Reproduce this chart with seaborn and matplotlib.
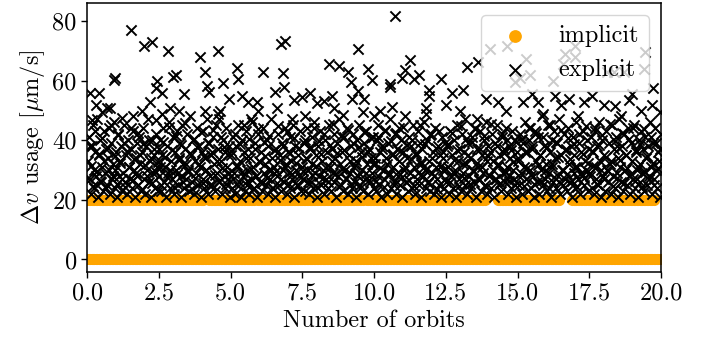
import numpy as np
import pandas as pd
import matplotlib
matplotlib.use("Agg")
import matplotlib.pyplot as plt
import seaborn as sns

# ---------------- data ----------------
# explicit Δv usage, core values sampled every 1/30 orbit, grouped in 2.5-orbit blocks
explicit_core_a = [33,41,27,22,38,45,30,24,36,28,47,21,35,40,26,
                   31,23,43,29,37,25,34,44,22,39,27,32,46,24,30,
                   36,21,42,28,33,38,23,29,45,26,35,22,40,31,27,
                   37,24,43,30,21,34,28,39,25,41,32,23,36,44,27,
                   22,38,30,47,26,33,21,40,29,35,24,42,31,23,37]
explicit_core_b = [28,40,23,35,44,26,31,21,38,29,46,24,33,27,41,
                   22,36,30,43,25,34,39,21,28,45,32,24,37,27,42,
                   30,23,48,35,26,40,22,33,29,44,25,38,31,21,36,
                   27,43,24,34,30,47,22,39,28,35,25,41,32,23,45,
                   29,37,26,50,33,22,40,28,36,24,44,31,27,38,21]
explicit_core_c = [35,24,41,29,22,38,31,45,26,33,21,40,28,36,23,
                   43,30,25,37,22,34,27,46,31,24,39,28,21,42,33,
                   26,36,23,44,29,32,25,40,22,38,30,27,47,34,24,
                   31,21,37,28,42,25,35,23,39,30,26,44,32,22,36,
                   29,41,24,33,27,45,21,38,30,25,35,28,43,23,31]
explicit_core_d = [27,39,23,34,44,30,22,37,26,41,32,24,46,29,35,
                   21,38,28,43,25,33,30,22,40,27,36,24,45,31,23,
                   37,29,42,26,34,21,39,28,47,32,25,36,23,41,30,
                   27,44,22,35,29,38,24,42,31,26,33,21,40,28,45,
                   25,36,30,23,39,27,43,32,22,37,26,34,29,41,24]
explicit_core_e = [32,23,40,28,45,25,36,21,38,30,27,43,34,22,39,
                   29,47,24,35,31,26,42,22,37,28,44,33,25,40,21,
                   36,30,48,26,34,23,41,29,38,24,45,31,22,35,27,
                   43,25,39,32,21,37,28,46,30,24,40,26,33,23,42,
                   29,36,22,44,31,27,38,25,35,21,41,30,34,24,39]
explicit_core_f = [26,38,31,22,43,28,35,24,40,30,21,45,33,27,37,
                   23,42,29,36,25,47,32,22,39,28,34,24,41,30,26,
                   44,21,37,31,27,43,23,35,29,40,25,46,33,22,38,
                   28,36,24,42,30,21,39,27,45,32,25,35,23,41,29,
                   37,26,44,31,22,38,28,34,24,43,30,27,40,21,36]
explicit_core_g = [34,25,42,29,22,39,31,46,27,36,23,40,30,44,24,
                   37,28,21,43,33,26,41,22,35,30,48,25,38,27,32,
                   23,45,29,36,21,40,31,26,43,34,24,39,28,47,22,
                   35,30,25,42,27,37,23,44,32,26,38,21,41,29,35,
                   24,46,31,27,39,22,36,28,43,25,33,30,40,23,37]
explicit_core_h = [29,41,24,36,22,44,31,27,38,25,46,33,21,40,28,
                   35,23,43,30,26,39,32,22,45,28,37,24,41,29,34,
                   21,47,31,26,38,23,42,30,35,25,44,28,22,39,33,
                   27,45,24,36,30,21,40,32,26,43,29,37,23,41,34,
                   25,38,28,46,31,22,39,27,44,30,24,36,33,21,42]

# second, sparser set of explicit samples (every 1/16 orbit)
explicit_core2_a = [27.5,38.2,31.4,24.6,43.1,29.8,35.5,26.2,40.7,33.1,23.9,37.4,30.2,45.3,28.1,34.6,25.4,41.8,32.3,27.0,
                    39.1,24.2,36.3,30.9,44.2,26.8,33.7,29.1,42.4,35.0,23.5,38.8,31.7,27.9,40.1,34.2,25.7,37.0,29.4,32.8]
explicit_core2_b = [31.2,25.1,39.6,34.4,27.7,44.6,30.0,36.9,24.4,41.3,28.6,33.5,38.3,26.1,45.8,32.1,29.3,35.8,23.7,40.5,
                    27.2,37.6,31.9,42.9,25.8,34.9,29.9,39.0,24.9,36.1,43.6,28.4,33.0,26.5,41.0,30.6,37.9,25.3,35.2,28.9]
explicit_core2_c = [36.4,27.1,42.0,31.6,24.8,38.7,29.2,45.0,33.9,26.3,40.4,30.5,23.8,37.2,28.0,43.8,32.6,25.6,39.4,34.7,
                    27.5,41.6,30.1,24.1,36.8,29.6,44.9,33.3,26.9,38.0,31.0,42.7,25.2,35.6,28.7,40.8,32.4,24.5,37.3,27.8]
explicit_core2_d = [29.7,40.0,33.6,25.9,37.7,28.3,44.0,31.3,24.3,39.8,35.3,27.4,42.2,30.8,26.0,38.5,32.9,45.5,28.8,35.9,
                    24.7,41.5,30.3,36.6,27.3,43.3,33.2,25.5,39.2,31.8,28.2,37.8,24.0,34.5,42.8,29.0,36.0,26.6,40.9,32.0]
explicit_core2_e = [34.1,26.4,41.1,30.7,37.1,24.2,43.5,32.2,28.5,39.9,35.4,25.0,42.5,29.5,36.5,27.6,44.4,31.1,38.4,26.7,
                    33.8,40.2,24.6,35.7,29.0,45.1,32.7,27.9,38.9,30.4,25.8,41.9,34.0,28.1,37.5,23.6,43.0,31.5,36.2,27.0]
explicit_core2_f = [30.3,38.6,26.0,42.3,33.4,28.9,36.7,24.8,44.7,31.9,27.3,40.6,35.1,25.4,39.3,29.8,43.9,32.5,26.8,37.0,
                    30.9,41.4,24.3,34.8,28.4,45.6,33.0,27.1,38.1,31.4,25.6,42.1,35.8,29.3,40.0,26.2,36.9,32.8,24.9,39.6]
explicit_core2_g = [33.0,27.6,40.3,24.7,36.2,30.6,44.1,28.3,38.0,25.5,42.6,31.8,35.0,26.4,41.2,29.7,37.7,24.1,45.2,32.0,
                    27.8,39.5,34.3,25.9,43.4,30.0,36.6,28.6,40.8,33.6,26.3,38.9,31.2,24.4,42.0,29.1,35.5,27.2,44.8,32.3]
explicit_core2_h = [28.0,36.3,31.5,43.2,25.3,38.3,30.1,41.7,26.9,34.4,29.6,45.4,32.9,24.5,39.7,27.4,37.4,33.3,42.5,25.7,
                    35.2,30.7,40.4,28.7,44.3,26.2,36.8,31.1,38.6,24.2,43.7,29.4,34.9,27.1,41.0,32.5,25.0,39.1,30.5,37.0]

# explicit high values (orbit, Δv)
explicit_peak_t = [1.52,1.96,2.25,2.81,0.92,0.97,0.10,0.40,2.43,2.38,2.60,3.00,3.10,0.69,0.80,0.50,1.20,0.16,2.40,2.62,2.90,3.20,1.60,1.90,0.30,2.20,
                   3.94,4.55,4.11,5.22,5.27,6.11,4.72,4.17,4.25,6.54,6.60,3.36,4.95,5.40,5.60,5.90,5.95,4.10,4.57,4.60,5.70,6.77,6.89,
                   6.83,6.85,7.76,8.52,9.22,9.45,9.63,7.20,7.50,8.00,8.25,7.13,10.20,9.43,8.43,8.76,9.10,9.20,9.78,9.94,7.60,8.90,9.60,10.00,8.60,
                   10.71,11.25,11.08,11.55,10.54,10.56,10.96,11.40,12.33,11.90,11.92,12.73,13.10,13.23,10.62,11.80,11.82,12.50,13.00,13.60,
                   13.62,14.03,14.63,15.31,15.10,15.45,14.90,16.23,16.65,16.60,16.99,17.00,18.10,18.35,18.70,19.43,19.40,19.73,
                   13.90,14.30,15.20,15.50,15.70,16.30,16.50,16.80,17.30,17.60,18.00,18.40,18.90,19.00,19.70,19.98,14.60,15.90,17.10,18.60,19.30]
explicit_peak_dv = [76.9,71.5,73.0,70.0,60.4,61.0,55.8,55.8,60.0,57.5,55.8,61.2,62.0,50.7,51.0,49.6,47.4,46.7,46.7,49.0,51.0,50.0,48.0,50.0,52.0,53.0,
                    67.9,70.0,63.1,64.4,60.7,63.1,59.2,58.1,56.2,56.2,51.0,55.5,54.0,55.0,53.0,53.0,50.0,50.0,49.0,47.0,47.0,72.4,73.4,
                    62.5,58.0,56.0,55.0,54.0,56.5,54.0,53.5,54.7,52.6,53.3,47.3,50.0,70.7,65.7,65.1,63.0,59.6,64.0,60.1,48.0,48.5,49.5,48.0,51.0,
                    81.9,66.8,63.5,61.8,59.0,58.0,61.0,60.7,60.7,56.8,55.0,56.0,57.0,64.6,51.2,51.0,49.0,52.0,50.0,47.0,
                    66.3,70.7,71.8,67.4,61.0,62.0,59.6,60.0,69.0,65.7,71.8,68.0,63.0,63.0,63.0,69.6,64.0,57.5,
                    54.0,53.0,53.0,55.5,53.0,55.0,52.0,54.0,53.0,55.0,52.0,51.5,53.5,55.5,52.0,49.5,50.0,49.0,48.0,48.0,50.0]

# implicit: constant levels (µm/s) and the orbit ranges where the 20 µm/s level is used
implicit_levels = [0.0, 20.0]
implicit_on_segments = [(0.0, 4.10), (4.22, 5.84), (5.94, 9.63), (9.72, 13.89), (14.29, 16.46), (16.86, 19.77)]
implicit_step = 0.05
n_orbits = 20.0

x_ticks = [0.0, 2.5, 5.0, 7.5, 10.0, 12.5, 15.0, 17.5, 20.0]
y_ticks = [0, 20, 40, 60, 80]

# ---------------- build tables ----------------
core = (explicit_core_a + explicit_core_b + explicit_core_c + explicit_core_d +
        explicit_core_e + explicit_core_f + explicit_core_g + explicit_core_h)
core2 = (explicit_core2_a + explicit_core2_b + explicit_core2_c + explicit_core2_d +
         explicit_core2_e + explicit_core2_f + explicit_core2_g + explicit_core2_h)
core_t = (np.arange(len(core)) + 0.5) * (n_orbits / len(core))
core2_t = (np.arange(len(core2)) + 0.3) * (n_orbits / len(core2))
explicit_df = pd.DataFrame({
    "t": np.concatenate([core_t, core2_t, explicit_peak_t]),
    "dv": np.concatenate([core, core2, explicit_peak_dv]).astype(float),
})

t_grid = np.arange(0.0, n_orbits + 1e-9, implicit_step)
imp_t, imp_v = [], []
imp_t.extend(t_grid)
imp_v.extend([implicit_levels[0]] * len(t_grid))
for a, b in implicit_on_segments:
    tt = t_grid[(t_grid >= a) & (t_grid <= b)]
    imp_t.extend(tt)
    imp_v.extend([implicit_levels[1]] * len(tt))
implicit_df = pd.DataFrame({"t": imp_t, "dv": imp_v})

# ---------------- plot ----------------
sns.set_style("ticks")
plt.rcParams.update({
    "font.family": ["cmr10", "DejaVu Serif"],
    "mathtext.fontset": "cm",
    "axes.formatter.use_mathtext": True,
    "font.size": 17.5,
    "axes.edgecolor": "black",
    "axes.linewidth": 1.1,
    "xtick.color": "black",
    "ytick.color": "black",
    "text.color": "black",
    "axes.labelcolor": "black",
    "xtick.direction": "out",
    "ytick.direction": "out",
    "xtick.major.size": 4,
    "ytick.major.size": 4,
    "xtick.major.width": 1.0,
    "ytick.major.width": 1.0,
})

fig, ax = plt.subplots(figsize=(7.12, 3.48), dpi=100)
fig.subplots_adjust(left=0.1226, right=0.9284, bottom=0.2193, top=0.9914)

sns.scatterplot(data=implicit_df, x="t", y="dv", ax=ax, color="orange", marker="o",
                s=64, linewidth=0, label="implicit", zorder=2)
sns.scatterplot(data=explicit_df, x="t", y="dv", ax=ax, color="black", marker="x",
                s=54, linewidth=1.4, label="explicit", zorder=3)

ax.set_xlim(0, 20)
ax.set_ylim(-4.1, 86.1)
ax.set_xticks(x_ticks)
ax.set_xticklabels([f"{v:.1f}" for v in x_ticks])
ax.set_yticks(y_ticks)
ax.set_yticklabels([str(v) for v in y_ticks])
ax.set_xlabel("Number of orbits")
ax.set_ylabel(r"$\Delta v$ usage [$\mu$m/s]")
for sp in ax.spines.values():
    sp.set_visible(True)
    sp.set_color("black")

leg = ax.legend(loc="upper right", frameon=True, framealpha=0.8, fancybox=True,
                edgecolor="0.8", fontsize=17.5, markerscale=1.15)

fig.savefig("out.png", dpi=100)
